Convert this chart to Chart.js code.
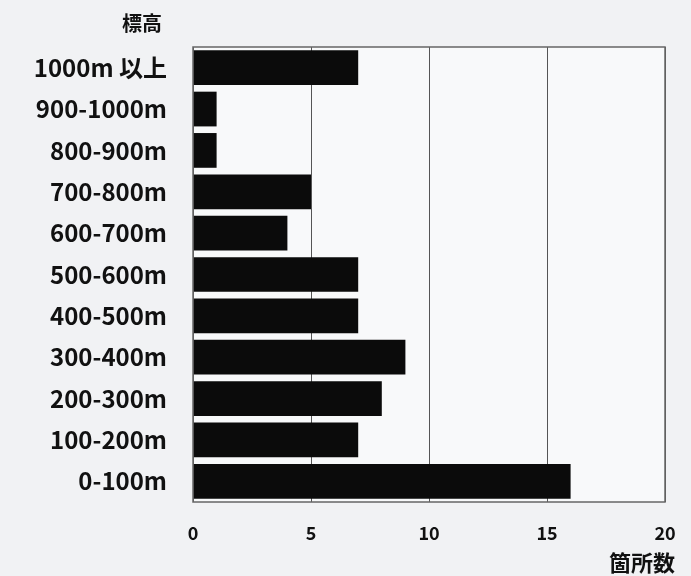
<!DOCTYPE html>
<html>
<head>
<meta charset="utf-8">
<script src="https://cdn.jsdelivr.net/npm/chart.js@4"></script>
<style>
  html, body { margin: 0; padding: 0; background: #f1f2f4; }
  #wrap { width: 691px; height: 576px; }
</style>
</head>
<body>
<div id="wrap"><canvas id="grafica-altitud" width="691" height="576"></canvas></div>
<script>
const categorias = ['1000m 以上', '900-1000m', '800-900m', '700-800m', '600-700m', '500-600m', '400-500m', '300-400m', '200-300m', '100-200m', '0-100m']
const valores = [7, 1, 1, 5, 4, 7, 7, 9, 8, 7, 16]
const ticksX = [0, 5, 10, 15, 20]
const tituloY = '標高'
const tituloX = '箇所数'

const fuente = "'Noto Sans CJK JP', 'Noto Sans', sans-serif"

// marco del area del grafico + titulos de los ejes
const marco = {
    id: 'marco',
    beforeDraw(chart) {
        const {ctx, chartArea: a} = chart
        ctx.save()
        ctx.fillStyle = '#f8f9fa'
        ctx.fillRect(a.left, a.top, a.right - a.left, a.bottom - a.top)
        ctx.restore()
    },
    afterDraw(chart) {
        const {ctx, chartArea: a} = chart
        ctx.save()
        ctx.strokeStyle = '#666'
        ctx.lineWidth = 1.5
        ctx.strokeRect(a.left, a.top, a.right - a.left, a.bottom - a.top)
        ctx.fillStyle = '#111'
        ctx.textBaseline = 'middle'
        ctx.font = "bold 20px " + fuente
        ctx.textAlign = 'center'
        ctx.fillText(tituloY, a.left - 51, a.top - 24)
        ctx.font = "bold 22px " + fuente
        ctx.textAlign = 'right'
        ctx.fillText(tituloX, a.right + 10, a.bottom + 61)
        ctx.restore()
    }
}

new Chart(document.querySelector('#grafica-altitud'), {
    type: 'bar',
    data: {
        labels: categorias,
        datasets: [{
            data: valores,
            backgroundColor: '#0b0b0b',
            categoryPercentage: 1,
            barPercentage: 0.84
        }]
    },
    options: {
        indexAxis: 'y',
        responsive: false,
        animation: false,
        layout: { padding: { top: 47, right: 26, left: 0, bottom: 0 } },
        plugins: { legend: { display: false }, tooltip: { enabled: false } },
        scales: {
            x: {
                min: 0,
                max: 20,
                afterBuildTicks(scale) { scale.ticks = ticksX.map(v => ({ value: v })) },
                afterFit(scale) { scale.height = 74; scale.paddingRight = 0; scale.paddingLeft = 0 },
                grid: { color: '#555', lineWidth: 1, drawTicks: false },
                border: { display: false },
                ticks: { color: '#111', padding: 20, font: { family: fuente, size: 18, weight: 'bold' } }
            },
            y: {
                afterFit(scale) { scale.width = 193 },
                grid: { display: false },
                border: { display: false },
                ticks: { color: '#111', padding: 18, font: { family: fuente, size: 24, weight: 'bold' } }
            }
        }
    },
    plugins: [marco]
})
</script>
</body>
</html>
